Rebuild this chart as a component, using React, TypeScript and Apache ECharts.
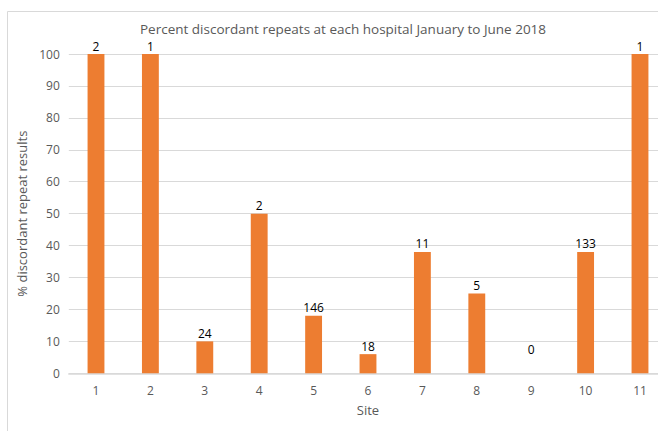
import React, { useEffect, useRef } from "react";
import * as echarts from "echarts";

const categories = ["1", "2", "3", "4", "5", "6", "7", "8", "9", "10", "11"];
const percentValues = [100, 100, 10, 50, 18, 6, 38, 25, 0, 38, 100];
const countLabels = ["2", "1", "24", "2", "146", "18", "11", "5", "0", "133", "1"];
const yTicks = { min: 0, max: 100, interval: 10 };

export default function App() {
  const ref = useRef<HTMLDivElement>(null);
  useEffect(() => {
    if (!ref.current) return;
    const chart = echarts.init(ref.current, null, { renderer: "svg" });
    const font = "'Open Sans', 'Noto Sans', sans-serif";
    chart.setOption({
      animation: false,
      backgroundColor: "#ffffff",
      textStyle: { fontFamily: font },
      title: {
        text: "Percent discordant repeats at each hospital January to June 2018",
        left: 338,
        textAlign: "center",
        top: 17,
        textStyle: { fontSize: 13.5, fontWeight: "normal", color: "#595959", fontFamily: font },
      },
      graphic: [
        {
          type: "rect",
          shape: { x: 7.5, y: 11.5, width: 700, height: 500 },
          style: { fill: "none", stroke: "#D9D9D9", lineWidth: 1 },
          silent: true,
        },
      ],
      grid: { left: 68.8, right: 12.8, top: 54, bottom: 57.7 },
      xAxis: {
        type: "category",
        data: categories,
        name: "Site",
        nameLocation: "middle",
        nameGap: 30,
        nameTextStyle: { fontSize: 13, color: "#595959", fontFamily: font },
        axisLine: { lineStyle: { color: "#D9D9D9", width: 1.5 } },
        axisTick: { show: false },
        axisLabel: { color: "#595959", fontSize: 12, margin: 11, fontFamily: font },
      },
      yAxis: {
        type: "value",
        min: yTicks.min,
        max: yTicks.max,
        interval: yTicks.interval,
        name: "% discordant repeat results",
        nameLocation: "middle",
        nameGap: 38,
        nameTextStyle: { fontSize: 13, color: "#595959", fontFamily: font },
        axisLine: { show: false },
        axisTick: { show: false },
        axisLabel: { color: "#595959", fontSize: 12, margin: 9, fontFamily: font },
        splitLine: { lineStyle: { color: "#D9D9D9", width: 1 } },
      },
      series: [
        {
          type: "bar",
          barWidth: "31%",
          data: percentValues.map((v, i) => ({
            value: v,
            label: {
              show: true,
              position: "top",
              distance: v === 0 ? 18 : 2,
              formatter: countLabels[i],
              color: "#000000",
              fontSize: 12,
              fontFamily: font,
            },
          })),
          itemStyle: { color: "#ED7D31" },
        },
      ],
    });
    return () => chart.dispose();
  }, []);
  return (
    <div
      ref={ref}
      style={{ position: "fixed", left: 0, top: 0, width: 680, height: 431 }}
    />
  );
}
